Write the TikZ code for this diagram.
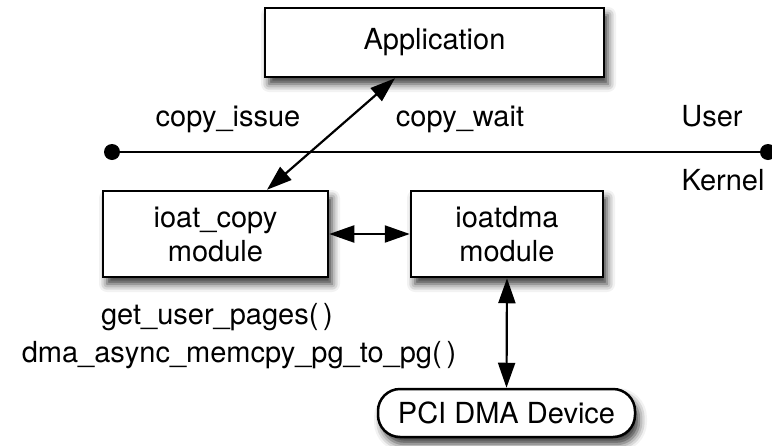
\documentclass[tikz,border=0pt]{standalone}
\usepackage{fontspec}
\setmainfont{TeX Gyre Heros}
\usetikzlibrary{arrows.meta,shadows.blur}

\tikzset{
  boxshadow/.style={blur shadow={shadow xshift=4pt, shadow yshift=-7pt,
      shadow blur radius=8pt, shadow opacity=80}},
  modbox/.style={draw=black, line width=2.5pt, fill=white, inner sep=0pt,
      align=center, boxshadow},
  pillbox/.style={modbox, rounded corners=22pt},
  label/.style={inner sep=0pt, anchor=base},
  link/.style={line width=2.2pt, {Triangle[length=25pt,width=17pt]}-{Triangle[length=25pt,width=17pt]}},
  divider/.style={line width=2.4pt},
}

\begin{document}
\begin{tikzpicture}[x=1pt, y=-1pt, font=\fontsize{29}{34}\selectfont]
\useasboundingbox (0,0) rectangle (772,445);

% boxes
\node[modbox, minimum width=339pt, minimum height=69pt] (app) at (434.5,42.5) {Application};
\node[modbox, minimum width=225pt, minimum height=86pt] (copy) at (215.5,234) {ioat\_copy\\module};
\node[modbox, minimum width=192pt, minimum height=86pt] (dma) at (507,234) {ioatdma\\module};
\node[pillbox, minimum width=257pt, minimum height=48pt] (pci) at (506.5,413) {PCI DMA Device};

% user / kernel boundary
\coordinate (lineL) at (112,152);
\coordinate (lineR) at (768,152);
\draw[divider] (lineL) -- (lineR);
\fill (lineL) circle (8pt);
\fill (lineR) circle (8pt);

% labels
\node[label] (issue) at (228,126) {copy\_issue};
\node[label] (wait) at (460,126) {copy\_wait};
\node[label] (user) at (712,126) {User};
\node[label] (kernel) at (723,190) {Kernel};
\node[label] (gup) at (217,324) {get\_user\_pages(\,)};
\node[label] (memcpy) at (239,362) {dma\_async\_memcpy\_pg\_to\_pg(\,)};

% connectors
\draw[link] ([xshift=51.5pt]copy.north) -- ([xshift=-39.5pt]app.south);
\draw[link] (copy.east) -- (dma.west);
\draw[link] (dma.south) -- (pci.north);
\end{tikzpicture}
\end{document}
